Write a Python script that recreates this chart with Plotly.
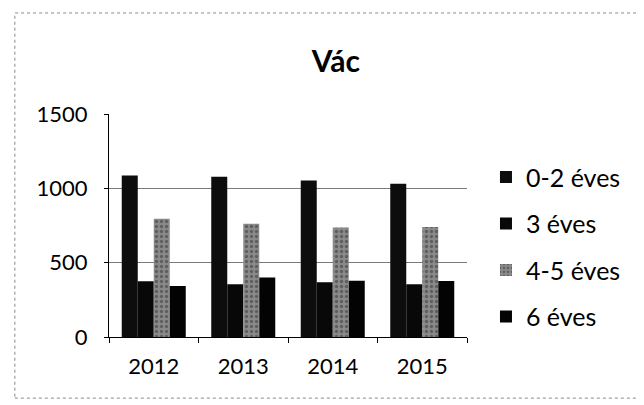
import plotly.graph_objects as go

years = ["2012", "2013", "2014", "2015"]
series_names = ["0-2 éves", "3 éves", "4-5 éves", "6 éves"]
v_0_2 = [1087, 1078, 1052, 1031]
v_3 = [375, 354, 368, 354]
v_4_5 = [795, 762, 737, 740]
v_6 = [343, 400, 379, 377]
y_ticks = [0, 500, 1000, 1500]

values = [v_0_2, v_3, v_4_5, v_6]
colors = ["#0d0d0d", "#080808", "#8a8a8a", "#030303"]
patterns = ["", "", ".", ""]

fig = go.Figure()
for name, vals, col, pat in zip(series_names, values, colors, patterns):
    marker = dict(color=col, line=dict(width=0))
    if pat:
        marker["pattern"] = dict(shape=pat, fgcolor="#333333", bgcolor=col, size=5, solidity=0.35)
    fig.add_trace(go.Bar(name=name, x=years, y=vals, marker=marker, legendgroup=name))

font_family = "Lato, 'Open Sans', sans-serif"
fig.update_layout(
    width=644, height=405,
    paper_bgcolor="white", plot_bgcolor="white",
    margin=dict(l=101, r=185, t=106, b=76),
    barmode="group", bargap=0.285, bargroupgap=0,
    font=dict(family=font_family, size=22, color="black"),
    title=dict(text="<b>Vác</b>", x=0.509, xanchor="center", y=0.867, yanchor="middle",
               xref="container", yref="container", font=dict(size=30, family=font_family)),
    legend=dict(x=1.053, xanchor="left", y=0.82, yanchor="top", traceorder="grouped",
                tracegroupgap=11, font=dict(size=25), bgcolor="rgba(0,0,0,0)"),
    xaxis=dict(showline=True, linecolor="black", linewidth=1, ticks="outside", ticklen=5,
               tickcolor="black", tickson="boundaries", ticklabelstandoff=10, showgrid=False),
    yaxis=dict(range=[0, 1500], tickvals=y_ticks, showline=True, linecolor="black", linewidth=1,
               ticks="outside", ticklen=4, tickcolor="black", ticklabelstandoff=12,
               showgrid=True, gridcolor="#7a7a7a", gridwidth=1, zeroline=False),
    shapes=[dict(type="rect", xref="paper", yref="paper", x0=-0.263, x1=1.483, y0=-0.274, y1=1.453,
                 line=dict(color="#888", width=1, dash="dot"), layer="below")],
)

fig.write_html("out.html")
